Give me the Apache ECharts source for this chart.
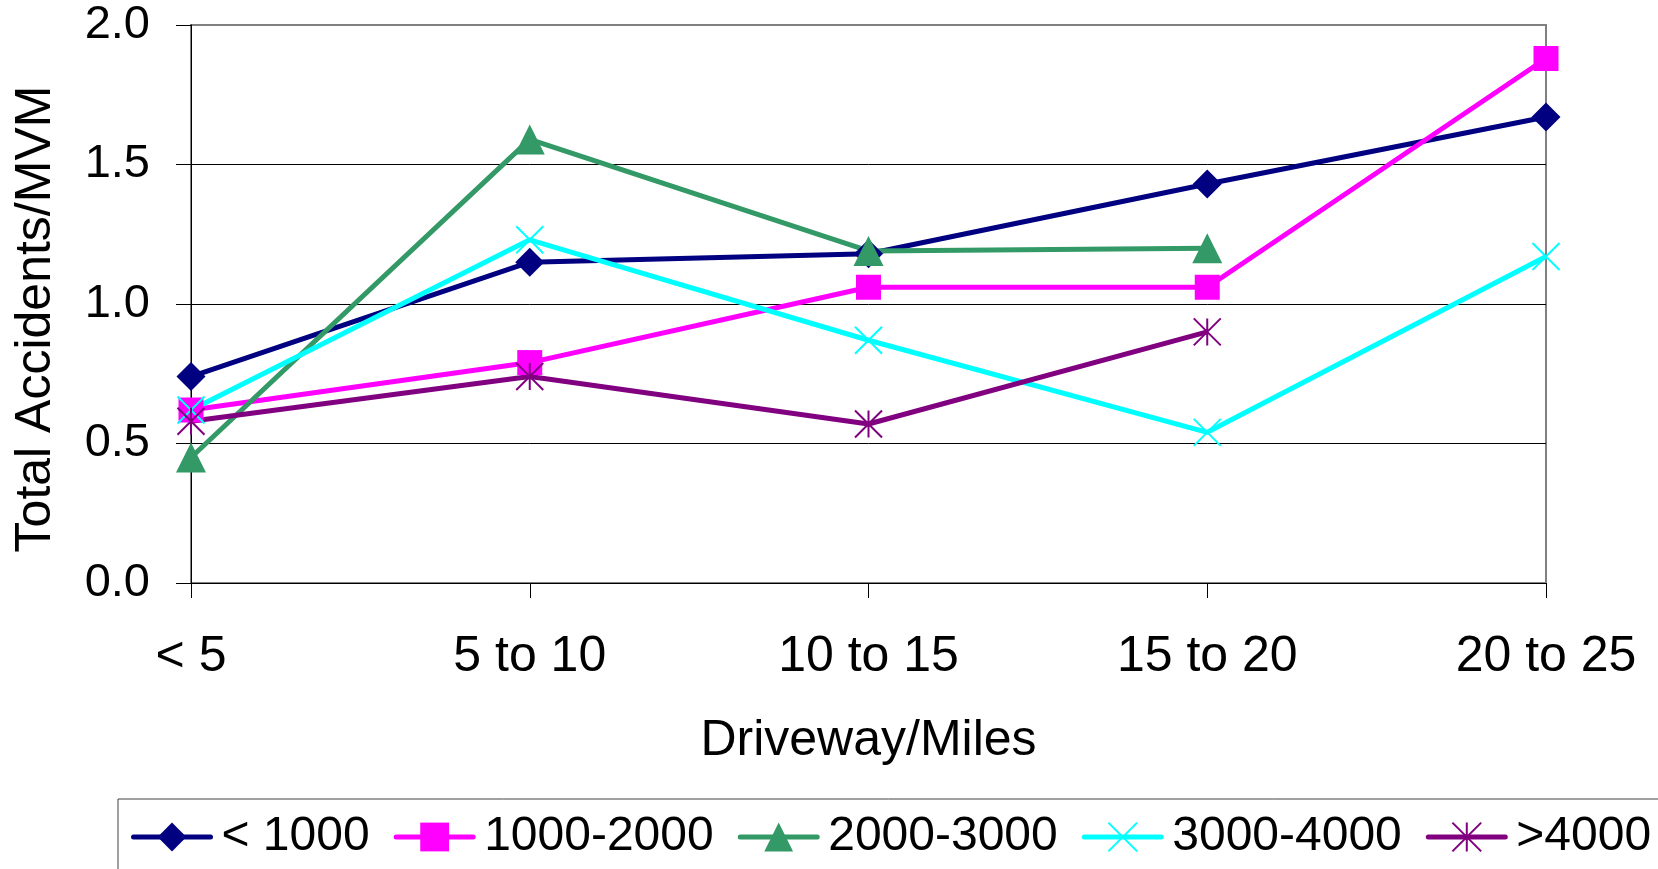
<!DOCTYPE html>
<html>
<head>
<meta charset="utf-8">
<title>Total Accidents/MVM by Driveway/Miles</title>
<script src="https://cdn.jsdelivr.net/npm/echarts@6/dist/echarts.min.js"></script>
<style>
  html, body { margin: 0; padding: 0; background: #fff; }
  #chart { width: 1658px; height: 869px; }
</style>
</head>
<body>
<div id="chart"></div>
<script>
// Driveway density bins (driveways per mile)
const categories = ['< 5', '5 to 10', '10 to 15', '15 to 20', '20 to 25'];

// Total accidents per million vehicle miles, one array per ADT group
const seriesNames = ['< 1000', '1000-2000', '2000-3000', '3000-4000', '>4000'];
const adtUnder1000 = [0.74, 1.15, 1.18, 1.43, 1.67];
const adt1000to2000 = [0.62, 0.79, 1.06, 1.06, 1.88];
const adt2000to3000 = [0.45, 1.59, 1.19, 1.20, null];
const adt3000to4000 = [0.62, 1.23, 0.87, 0.54, 1.17];
const adtOver4000 = [0.58, 0.74, 0.57, 0.90, null];

const yTicks = [0, 0.5, 1.0, 1.5, 2.0];

const FONT = '"Liberation Sans", Arial, sans-serif';

const colors = ['#000080', '#FF00FF', '#339966', '#00FFFF', '#800080'];
const xMark = 'path://M0,0L20,20M20,0L0,20';
const starMark = 'path://M10,0L10,20M0,0L20,20M20,0L0,20';

function lineSeries(name, data, color, symbol, size, stroked) {
  return {
    name: name,
    type: 'line',
    data: data,
    connectNulls: false,
    symbol: symbol,
    symbolSize: size,
    showAllSymbol: true,
    lineStyle: { color: color, width: 5 },
    itemStyle: stroked
      ? { color: color, borderColor: color, borderWidth: 2 }
      : { color: color, borderWidth: 0 },
    emphasis: { disabled: true },
    animation: false
  };
}

const chart = echarts.init(document.getElementById('chart'), null, { renderer: 'canvas' });

chart.setOption({
  backgroundColor: '#ffffff',
  animation: false,
  grid: {
    left: 191,
    right: 112,
    top: 25,
    bottom: 286,
    show: true,
    borderColor: '#808080',
    borderWidth: 2,
    containLabel: false,
    outerBoundsMode: 'none'
  },
  legend: {
    data: seriesNames,
    left: 118,
    top: 799,
    width: 1600,
    orient: 'horizontal',
    padding: [14, 60, 60, 13],
    itemGap: 24,
    itemWidth: 77,
    itemHeight: 36,
    borderColor: '#404040',
    borderWidth: 1,
    textStyle: {
      fontFamily: FONT,
      fontSize: 48,
      color: '#000',
      padding: [0, 0, 0, 6]
    },
    lineStyle: { width: 5, cap: 'round' }
  },
  xAxis: {
    type: 'category',
    data: categories,
    boundaryGap: false,
    name: 'Driveway/Miles',
    nameLocation: 'middle',
    nameGap: 133,
    nameMoveOverlap: false,
    nameTextStyle: { fontFamily: FONT, fontSize: 50, color: '#000' },
    axisLine: { show: true, lineStyle: { color: '#000', width: 1 } },
    axisTick: { show: true, inside: false, length: 15, interval: 0, lineStyle: { color: '#000', width: 1 } },
    axisLabel: { fontFamily: FONT, fontSize: 50, color: '#000', margin: 49, interval: 0 },
    splitLine: { show: false }
  },
  yAxis: {
    type: 'value',
    min: yTicks[0],
    max: yTicks[yTicks.length - 1],
    interval: yTicks[1] - yTicks[0],
    name: 'Total Accidents/MVM',
    nameLocation: 'middle',
    nameGap: 130,
    nameRotate: 90,
    nameTextStyle: { fontFamily: FONT, fontSize: 50, color: '#000', padding: [0, 30, 0, 0] },
    axisLine: { show: true, lineStyle: { color: '#000', width: 1 } },
    axisTick: { show: true, inside: false, length: 15, lineStyle: { color: '#000', width: 1 } },
    axisLabel: {
      fontFamily: FONT,
      fontSize: 47,
      color: '#000',
      margin: 41,
      formatter: function (v) { return v.toFixed(1); }
    },
    splitLine: { show: true, showMaxLine: false, showMinLine: false, lineStyle: { color: '#000', width: 1 } }
  },
  series: [
    lineSeries(seriesNames[0], adtUnder1000, colors[0], 'diamond', 29, false),
    lineSeries(seriesNames[1], adt1000to2000, colors[1], 'rect', 25, false),
    lineSeries(seriesNames[2], adt2000to3000, colors[2], 'triangle', 30, false),
    lineSeries(seriesNames[3], adt3000to4000, colors[3], xMark, 27, true),
    lineSeries(seriesNames[4], adtOver4000, colors[4], starMark, 27, true)
  ]
});
</script>
</body>
</html>
